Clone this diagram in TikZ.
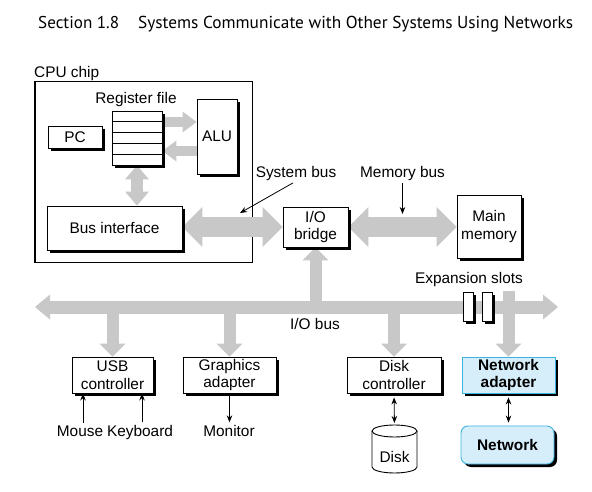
\documentclass[tikz,border=0pt]{standalone}
\usepackage{fontspec}
\usepackage{graphicx}
\setmainfont{Liberation Sans}
\newfontfamily\hdrfont{PT Sans}
\usetikzlibrary{arrows.meta,shadows,calc,backgrounds}
\definecolor{busgray}{RGB}{200,200,200}
\definecolor{netfill}{RGB}{214,238,250}
\definecolor{netdraw}{RGB}{60,180,225}
\begin{document}
\begin{tikzpicture}[x=1pt,y=-1pt,
  every node/.style={font=\fontsize{15.4}{17.5}\selectfont, inner sep=0pt},
  box/.style={draw=black,line width=0.9pt,fill=white,align=center,
    drop shadow={shadow xshift=3pt,shadow yshift=-3pt,fill=black,opacity=1}},
  netbox/.style={box,draw=netdraw,fill=netfill,font=\fontsize{15.4}{17.5}\selectfont\bfseries},
  bigbus/.style={draw=busgray,line width=20pt,>={Triangle[width=40pt,length=20pt,line width=0pt]}},
  iobus/.style={draw=busgray,line width=13pt,>={Triangle[width=25pt,length=15pt,line width=0pt]}},
  cpuarr/.style={draw=busgray,line width=10pt,>={Triangle[width=21pt,length=14pt,line width=0pt]}},
  cpuv/.style={draw=busgray,line width=12pt,>={Triangle[width=24pt,length=14pt,line width=0pt]}},
  vbus/.style={draw=busgray,line width=12pt,>={Triangle[width=26pt,length=13pt,line width=0pt]}},
  thinarr/.style={draw=black,line width=0.8pt,>={Stealth[length=7pt,width=5.5pt]}},
  hdr/.style={anchor=base west,font=\hdrfont}]

\useasboundingbox (0,0) rectangle (592,492);

% header
\node[hdr] (hdr1) at (38,29) {\resizebox{81pt}{!}{Section 1.8}};
\node[hdr] (hdr2) at (138,29) {\resizebox{435pt}{!}{Systems Communicate with Other Systems Using Networks}};

% CPU chip
\node[minimum width=217pt,minimum height=180pt] (cpu) at (143.5,172) {};
\node[anchor=base west] (cpulbl) at (34,77.5) {CPU chip};
\node[anchor=base] (reglbl) at (136,103.5) {Register file};
\node[box,minimum width=50pt,minimum height=54pt] (regfile) at (137,138) {};
\foreach \k in {1,...,4}
  \draw[line width=0.9pt] ($(regfile.north west)!\k/5!(regfile.south west)$) -- ($(regfile.north east)!\k/5!(regfile.south east)$);
\node[box,minimum width=54pt,minimum height=22pt] (pc) at (75,137) {PC};
\node[box,minimum width=40pt,minimum height=75pt] (alu) at (217,136.5) {ALU};
\node[box,minimum width=135pt,minimum height=44pt] (busif) at (114.5,228) {Bus interface};

% bridge & memory
\node[box,minimum width=65pt,minimum height=40pt] (bridge) at (315.5,227) {I/O\\bridge};
\node[box,minimum width=64pt,minimum height=63pt] (mainmem) at (489,226.5) {Main\\memory};
\node[anchor=base] (syslbl) at (296,177.5) {System bus};
\node[anchor=base] (memlbl) at (402.5,177.5) {Memory bus};
\coordinate (systip) at (240,213);
\coordinate (memtip) at (402.5,214);

% I/O bus
\coordinate (busL) at (35,307);
\coordinate (busR) at (558,307);
\node[anchor=base] (iolbl) at (315,329) {I/O bus};
\node[anchor=base] (explbl) at (469,283.5) {Expansion slots};

% devices
\node[box,minimum width=81pt,minimum height=36pt] (usb) at (112.5,375) {USB\\controller};
\node[box,minimum width=93pt,minimum height=36pt] (gfx) at (229.5,375) {Graphics\\adapter};
\node[box,minimum width=94pt,minimum height=36pt] (diskctl) at (394,375) {Disk\\controller};
\node[netbox,minimum width=93pt,minimum height=36pt] (netad) at (508.5,375) {Network\\adapter};
\node[netbox,rounded corners=7pt,minimum width=93pt,minimum height=38pt] (net) at (507.5,445) {Network};

\node[anchor=base] (mouse) at (80,436.7) {Mouse};
\node[anchor=base] (kbd) at (140,436.7) {Keyboard};
\node[anchor=base] (monitor) at (229,436.7) {Monitor};

% disk cylinder
\coordinate (disktop) at (394.5,425);
\draw[line width=0.9pt,fill=white] (372,431) -- (372,467)
  arc[start angle=180,end angle=0,x radius=22.5,y radius=6] -- (417,431);
\draw[line width=0.9pt,fill=white] (394.5,431) ellipse [x radius=22.5,y radius=6];
\node[anchor=base] (disk) at (394.5,462) {Disk};

% expansion slots (over the bus)
\node[box,line width=0.8pt,minimum width=10pt,minimum height=29pt,
  drop shadow={shadow xshift=2.5pt,shadow yshift=-2.5pt,fill=black,opacity=1}] (slot1) at (468,306.5) {};
\node[box,line width=0.8pt,minimum width=10pt,minimum height=29pt,
  drop shadow={shadow xshift=2.5pt,shadow yshift=-2.5pt,fill=black,opacity=1}] (slot2) at (487,306.5) {};

\begin{scope}[on background layer]
  \fill[white] (0,0) rectangle (592,492);
  \draw[line width=1.4pt] (cpu.north west) rectangle (cpu.south east);
  \draw[cpuarr,->] (regfile.east |- 0,122) -- (alu.west |- 0,122);
  \draw[cpuarr,->] (alu.west |- 0,151) -- (regfile.east |- 0,151);
  \draw[cpuv,<->] (regfile.south) -- (regfile.south |- busif.north);
  \draw[bigbus,<->] (bridge.west -| busif.east) -- (bridge.west);
  \draw[bigbus,<->] (bridge.east) -- (bridge.east -| mainmem.west);
  \draw[iobus,<->] (busL) -- (busR);
  \draw[vbus,->] (bridge.south |- busL) -- (bridge.south);
  \draw[vbus,->] (usb.north |- busL) -- (usb.north);
  \draw[vbus,->] (gfx.north |- busL) -- (gfx.north);
  \draw[vbus,->] (diskctl.north |- busL) -- (diskctl.north);
  \draw[vbus,->] (netad.north |- 0,291) -- (netad.north);
\end{scope}

% thin arrows
\draw[thinarr,->] ([xshift=-3pt,yshift=-2pt]syslbl.south) -- (systip);
\draw[thinarr,->] ([yshift=-2pt]memlbl.south) -- (memtip);
\draw[thinarr,->] ([yshift=3pt]mouse.north -| 83,0) -- (usb.south -| 83,0);
\draw[thinarr,->] ([yshift=3pt]kbd.north -| 142,0) -- (usb.south -| 142,0);
\draw[thinarr,->] (gfx.south) -- ([yshift=3pt]gfx.south |- monitor.north);
\draw[thinarr,<->,shorten <=4pt,shorten >=2pt] (diskctl.south) -- (disktop);
\draw[thinarr,<->,shorten <=4pt,shorten >=3pt] (netad.south) -- (netad.south |- net.north);
\end{tikzpicture}
\end{document}
